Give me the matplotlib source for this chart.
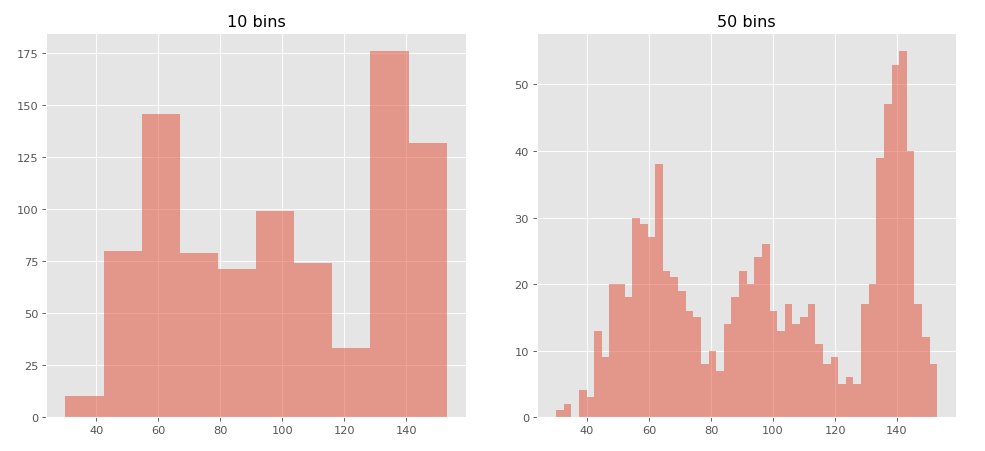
import matplotlib
matplotlib.use("Agg")
import matplotlib.pyplot as plt
import numpy as np

plt.style.use("ggplot")

x_min, x_max = 30.0, 153.0
counts_10 = [10, 80, 146, 79, 71, 99, 74, 33, 176, 132]
counts_50 = [1, 2, 0, 4, 3, 13, 9, 20, 20, 18,
             30, 29, 27, 38, 22, 21, 19, 16, 15, 8,
             10, 7, 14, 18, 22, 20, 24, 26, 16, 13,
             17, 14, 15, 17, 11, 8, 9, 5, 6, 5,
             17, 20, 39, 47, 53, 55, 40, 17, 12, 8]
titles = ["10 bins", "50 bins"]

fig, axes = plt.subplots(1, 2, figsize=(986/82, 452/82), dpi=82)
for ax, counts, title in zip(axes, [counts_10, counts_50], titles):
    edges = np.linspace(x_min, x_max, len(counts) + 1)
    ax.hist(edges[:-1], bins=edges, weights=counts, alpha=0.5)
    ax.set_title(title, fontsize=14)
axes[0].set_xticks([40, 60, 80, 100, 120, 140])
axes[1].set_xticks([40, 60, 80, 100, 120, 140])
fig.subplots_adjust(left=0.047, right=0.97, bottom=0.075, top=0.925, wspace=0.17)
fig.savefig("out.png", dpi=82)
